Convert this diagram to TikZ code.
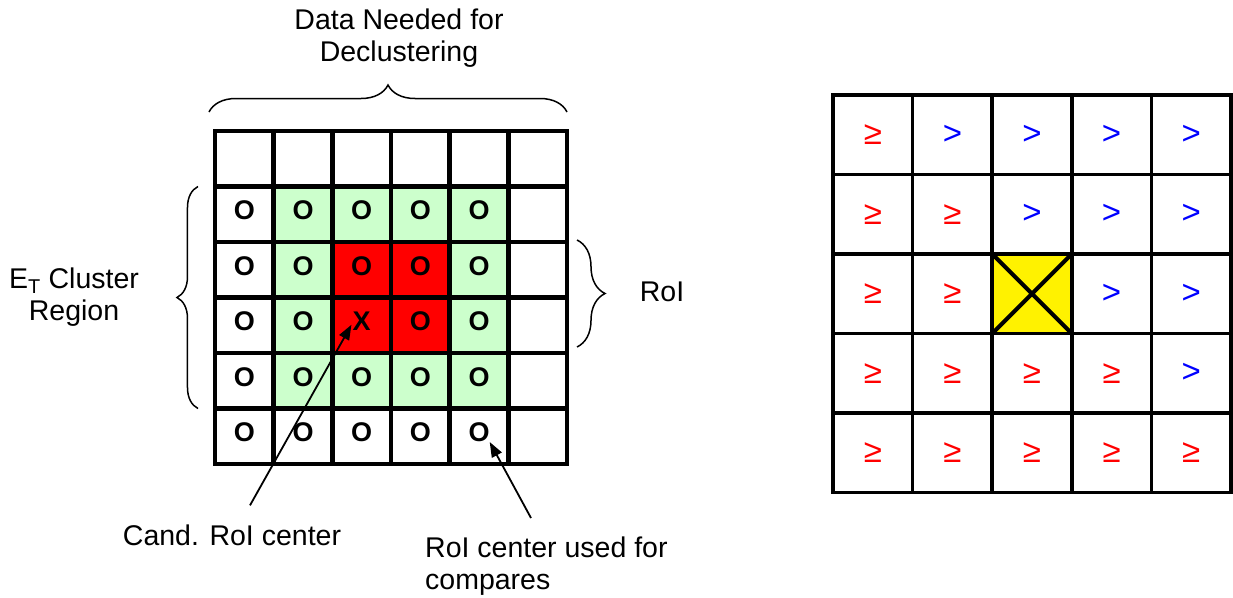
\documentclass[tikz,border=0pt]{standalone}
\usepackage{fontspec}
\setmainfont{Liberation Sans}
\usetikzlibrary{arrows.meta,decorations.pathreplacing}
\definecolor{lgreen}{RGB}{204,255,204}

\begin{document}
\begin{tikzpicture}[x=1pt,y=-1pt,
    txt/.style={font=\fontsize{28.5}{32}\selectfont, align=center, inner sep=0pt},
    cellL/.style={minimum width=58.67pt, minimum height=55.5pt, inner sep=0pt, outer sep=0pt},
    cellR/.style={minimum width=79.6pt, minimum height=79.5pt, inner sep=0pt, outer sep=0pt},
    oh/.style={font=\fontsize{27}{27}\selectfont\bfseries, inner sep=0pt, yshift=4pt},
    ge/.style={text=red, font=\fontsize{33}{33}\selectfont, inner sep=0pt},
    gt/.style={text=blue, font=\fontsize{33}{33}\selectfont, inner sep=0pt},
    brc/.style={decorate, decoration={brace, amplitude=#1}, line width=1.5pt},
    arr/.style={-{Triangle[length=15pt,width=11pt]}, line width=1.8pt}]

    \useasboundingbox (0,0) rectangle (1233,597);

    \foreach \r in {0,...,5}
        \foreach \c in {0,...,5}
            \node[cellL] (L\r\c) at ({244.33+58.67*\c},{158.75+55.5*\r}) {};
    \fill[lgreen] (L11.north west) rectangle (L44.south east);
    \fill[red] (L22.north west) rectangle (L33.south east);
    \foreach \r in {0,...,5}
        \foreach \c in {0,...,5}
            \draw[line width=4.5pt] (L\r\c.north west) rectangle (L\r\c.south east);

    \foreach \r/\c in {1/0,1/1,1/2,1/3,1/4,2/0,2/1,2/2,2/3,2/4,3/0,3/1,3/3,3/4,
                       4/0,4/1,4/2,4/3,4/4,5/0,5/1,5/2,5/3,5/4}
        \node[oh] (O\r\c) at (L\r\c) {O};
    \node[oh] (X32) at (L32) {X};

    \draw[brc=27pt] ([xshift=-6pt,yshift=19pt]L00.north west) -- ([yshift=19pt]L05.north east);
    \draw[brc=21pt] ([xshift=-17pt]L40.south west) -- ([xshift=-17pt]L10.north west);
    \draw[brc=28pt] ([xshift=10pt,yshift=2pt]L25.north east) -- ([xshift=10pt,yshift=6pt]L35.south east);

    \node[txt] (need) at (399,38) {Data Needed for\\Declustering};
    \node[txt] (clus) at (74,297) {E\textsubscript{T} Cluster\\Region};
    \node[txt] (roi) at (662,292) {RoI};
    \node[txt] (cand) at (232,535) {Cand. RoI center};
    \node[txt, align=left, anchor=north west] (cmp) at (425,537) {RoI center used for\\compares};

    \draw[arr] ([xshift=18pt,yshift=19pt]cand.north) -- ([shift={(-1,-6)}]X32.south west);
    \draw[arr] ([xshift=106pt,yshift=19pt]cmp.north west) -- (O54.south east);

    \foreach \r in {0,...,4}
        \foreach \c in {0,...,4}
            \node[cellR] (R\r\c) at ({872.8+79.6*\c},{134.75+79.5*\r}) {};
    \fill[yellow] (R22.north west) rectangle (R22.south east);
    \foreach \r in {0,...,4}
        \foreach \c in {0,...,4}
            \draw[line width=3.5pt] (R\r\c.north west) rectangle (R\r\c.south east);
    \draw[line width=4pt] (R22.north west) -- (R22.south east) (R22.north east) -- (R22.south west);

    \foreach \r/\c in {0/0,1/0,1/1,2/0,2/1,3/0,3/1,3/2,3/3,4/0,4/1,4/2,4/3,4/4}
        \node[ge] (S\r\c) at (R\r\c) {≥};
    \foreach \r/\c in {0/1,0/2,0/3,0/4,1/2,1/3,1/4,2/3,2/4,3/4}
        \node[gt] (S\r\c) at (R\r\c) {>};

\end{tikzpicture}
\end{document}
